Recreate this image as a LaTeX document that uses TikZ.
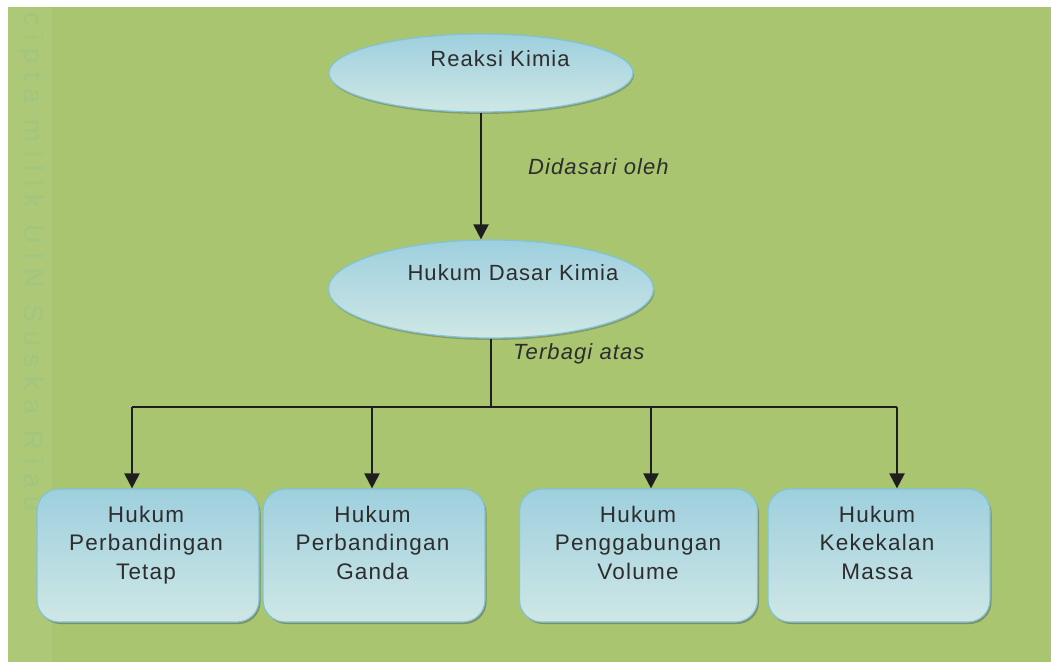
\documentclass[tikz,border=0pt]{standalone}
\usepackage{fontspec}
\setmainfont{Liberation Sans}
\newfontfamily\lblfont[LetterSpace=5]{Liberation Sans}
\newfontfamily\boxfont[LetterSpace=5.5]{Liberation Sans}
\newfontfamily\wmfont[LetterSpace=32]{Liberation Sans}
\usetikzlibrary{shapes.geometric,arrows.meta,shadows}
\definecolor{bg}{RGB}{169,197,112}
\definecolor{bgstrip}{RGB}{173,200,118}
\definecolor{wm}{RGB}{160,198,128}
\definecolor{fillTop}{RGB}{158,207,222}
\definecolor{fillBot}{RGB}{206,231,229}
\definecolor{edge}{RGB}{128,196,216}
\definecolor{ink}{RGB}{45,45,45}
\definecolor{arrowc}{RGB}{30,30,30}
\tikzset{
  ell/.style={ellipse, draw=edge, line width=1.2bp, top color=fillTop, bottom color=fillBot, inner sep=0,
    drop shadow={shadow xshift=1bp, shadow yshift=-2bp, opacity=0.35, fill=black!70}},
  lawbox/.style={rectangle, rounded corners=22bp, draw=edge, line width=1.2bp, top color=fillTop, bottom color=fillBot,
    minimum height=133bp, inner sep=0,
    drop shadow={shadow xshift=1.5bp, shadow yshift=-2bp, opacity=0.45, fill=black!70}},
  conn/.style={draw=arrowc, line width=2.2bp},
  arr/.style={conn, -{Triangle[width=15bp,length=15bp]}},
  etxt/.style={text=ink, inner sep=0, font=\lblfont\fontsize{22bp}{26bp}\selectfont},
  itxt/.style={text=ink, inner sep=0, font=\lblfont\itshape\fontsize{22bp}{26bp}\selectfont},
  btxt/.style={text=ink, inner sep=0, align=center, anchor=north, font=\boxfont\fontsize{22.5bp}{28.5bp}\selectfont},
}
\begin{document}
\begin{tikzpicture}[x=1bp,y=-1bp]
\useasboundingbox (0,0) rectangle (1051,662);
\fill[white] (0,0) rectangle (1051,662);
\fill[bg] (8,7) rectangle (1051,662);
\fill[bgstrip] (8,7) rectangle (52,662);
\node[rotate=-90, anchor=west, inner sep=0, text=wm, font=\wmfont\fontsize{27bp}{27bp}\selectfont] (wmk) at (31,12) {cipta milik UIN Suska Riau};

% ellipses
\node[ell, minimum width=304bp, minimum height=78bp] (e1) at (481,73) {};
\node[ell, minimum width=325bp, minimum height=98bp] (e2) at (491,289) {};
\node[etxt, anchor=base] (t1) at (500,67) {Reaksi Kimia};
\node[etxt, anchor=base] (t2) at (513,280) {Hukum Dasar Kimia};

% boxes
\node[lawbox, minimum width=222bp] (b1) at (148,555.5) {};
\node[lawbox, minimum width=222bp] (b2) at (374,555.5) {};
\node[lawbox, minimum width=238bp] (b3) at (638.5,555.5) {};
\node[lawbox, minimum width=222bp] (b4) at (879,555.5) {};
\node[btxt] (bt1) at (146,505.5) {Hukum\\Perbandingan\\Tetap};
\node[btxt] (bt2) at (372.5,505.5) {Hukum\\Perbandingan\\Ganda};
\node[btxt] (bt3) at (638,505.5) {Hukum\\Penggabungan\\Volume};
\node[btxt] (bt4) at (877,505.5) {Hukum\\Kekekalan\\Massa};

% labels
\node[itxt, anchor=base west] (l1) at (528,175) {Didasari oleh};
\node[itxt, anchor=base west] (l2) at (513,359) {Terbagi atas};

% connectors
\coordinate (j) at (491,407);
\coordinate (a1) at (132,407);
\coordinate (a2) at (372,407);
\coordinate (a3) at (651,407);
\coordinate (a4) at (897,407);
\draw[arr] (e1.south) -- (e1.south |- e2.north);
\draw[conn] (e2.south) -- (j);
\draw[conn] (a1) -- (a4);
\draw[arr] (a1) -- (a1 |- b1.north);
\draw[arr] (a2) -- (a2 |- b2.north);
\draw[arr] (a3) -- (a3 |- b3.north);
\draw[arr] (a4) -- (a4 |- b4.north);
\end{tikzpicture}
\end{document}
